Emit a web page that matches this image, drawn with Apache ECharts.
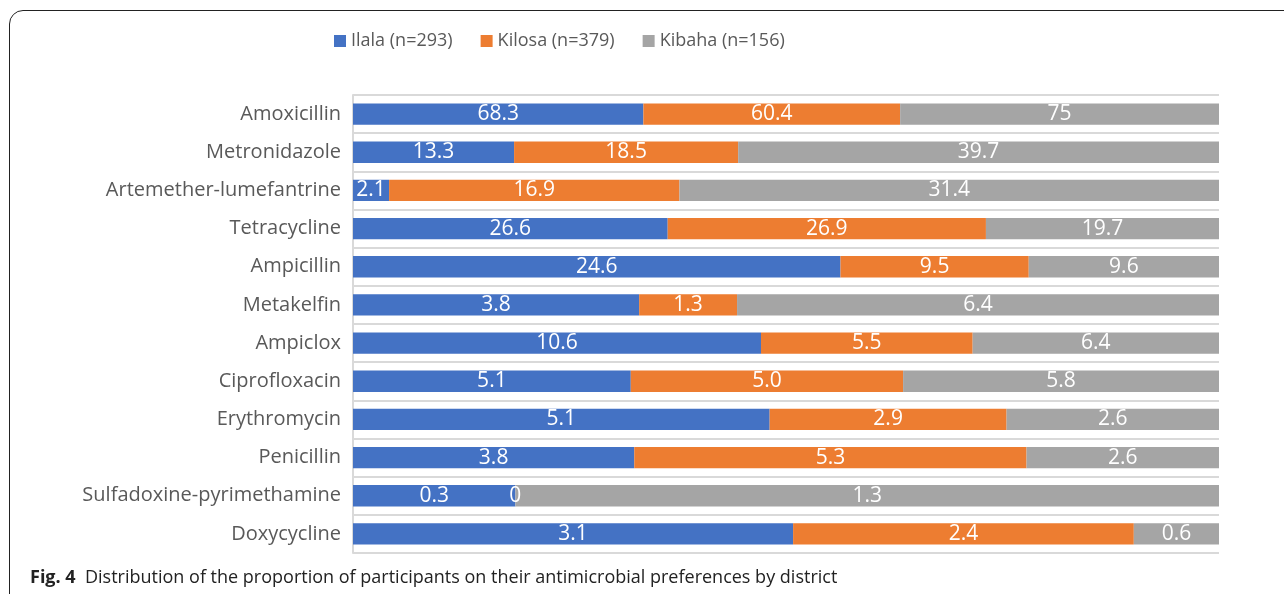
<!DOCTYPE html>
<html>
<head>
<meta charset="utf-8">
<script src="https://cdn.jsdelivr.net/npm/echarts@6/dist/echarts.min.js"></script>
<style>
  html, body { margin: 0; padding: 0; background: #fff; }
  .frame {
    position: absolute;
    left: 9px;
    top: 10px;
    width: 1400px;
    height: 700px;
    border: 1.5px solid #222;
    border-radius: 14px;
    box-sizing: border-box;
  }
  #chart {
    position: absolute;
    left: 0;
    top: 0;
    width: 1284px;
    height: 594px;
  }
</style>
</head>
<body>
<div class="frame"></div>
<div id="chart"></div>
<script>
// 药物类别
var drugs = [
  'Amoxicillin',
  'Metronidazole',
  'Artemether-lumefantrine',
  'Tetracycline',
  'Ampicillin',
  'Metakelfin',
  'Ampiclox',
  'Ciprofloxacin',
  'Erythromycin',
  'Penicillin',
  'Sulfadoxine-pyrimethamine',
  'Doxycycline'
];
// 各地区百分比 (按图中标签)
var ilala = ['68.3', '13.3', '2.1', '26.6', '24.6', '3.8', '10.6', '5.1', '5.1', '3.8', '0.3', '3.1'];
var kilosa = ['60.4', '18.5', '16.9', '26.9', '9.5', '1.3', '5.5', '5.0', '2.9', '5.3', '0', '2.4'];
var kibaha = ['75', '39.7', '31.4', '19.7', '9.6', '6.4', '6.4', '5.8', '2.6', '2.6', '1.3', '0.6'];
var names = ['Ilala (n=293)', 'Kilosa (n=379)', 'Kibaha (n=156)'];
var colors = ['#4472c4', '#ed7d31', '#a5a5a5'];

var groups = [ilala, kilosa, kibaha];
var sums = drugs.map(function (d, i) {
  return groups.reduce(function (s, g) { return s + parseFloat(g[i]); }, 0);
});

var myChart = echarts.init(document.getElementById('chart'));
var font = '"Open Sans", "Noto Sans", sans-serif';

var series = groups.map(function (g, k) {
  return {
    name: names[k],
    type: 'bar',
    stack: 'total',
    barWidth: '56%',
    itemStyle: { color: colors[k] },
    label: {
      show: true,
      position: 'inside',
      color: '#fff',
      fontSize: 21,
      fontFamily: font,
      formatter: function (p) { return g[p.dataIndex]; }
    },
    data: g.map(function (v, i) { return parseFloat(v) / sums[i]; })
  };
});

var option = {
  animation: false,
  title: {
    text: '{b|Fig. 4}  Distribution of the proportion of participants on their antimicrobial preferences by district',
    left: 25,
    top: 564,
    textStyle: {
      fontFamily: font,
      fontSize: 18,
      fontWeight: 'normal',
      color: '#222',
      rich: {
        b: { fontFamily: font, fontSize: 18, fontWeight: 'bold', color: '#222' }
      }
    }
  },
  legend: {
    left: 329,
    top: 27,
    itemWidth: 12,
    itemHeight: 12,
    itemGap: 28,
    icon: 'rect',
    textStyle: { fontFamily: font, fontSize: 18, color: '#595959' },
    data: names
  },
  grid: { left: 353, right: 65, top: 95, bottom: 41 },
  xAxis: {
    type: 'value',
    min: 0,
    max: 1,
    show: false
  },
  yAxis: {
    type: 'category',
    inverse: true,
    data: drugs,
    axisTick: { show: false },
    axisLine: { show: true, lineStyle: { color: '#d9d9d9', width: 2 } },
    axisLabel: { color: '#595959', fontSize: 20, fontFamily: font, margin: 12 },
    splitLine: { show: true, lineStyle: { color: '#d9d9d9', width: 2 } }
  },
  series: series
};

myChart.setOption(option);
</script>
</body>
</html>
